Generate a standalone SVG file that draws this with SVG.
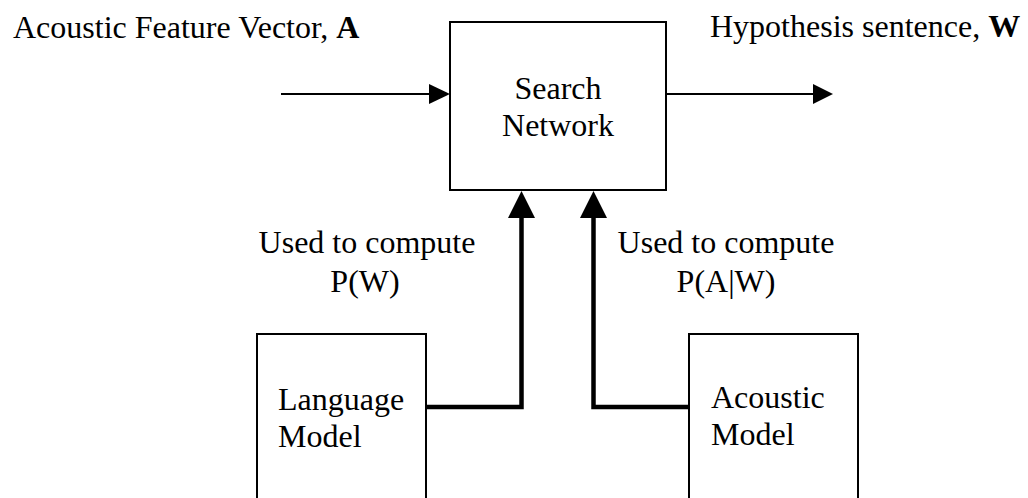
<svg xmlns="http://www.w3.org/2000/svg" width="1028" height="498" viewBox="0 0 1028 498">
<style>
.box{fill:#fff;stroke:#000;stroke-width:2}
.t{font-family:"Liberation Serif","Times New Roman",serif;font-size:32px;fill:#000}
.thin{stroke:#000;stroke-width:2;fill:none}
.thick{stroke:#000;stroke-width:4.5;fill:none;stroke-linejoin:miter}
.head{fill:#000}
</style>
<rect width="1028" height="498" fill="#fff"/>
<g id="connectors">
<line class="thin" x1="281" y1="94" x2="431" y2="94"/>
<polygon class="head" points="429,84 450,94 429,104"/>
<line class="thin" x1="666" y1="94" x2="815" y2="94"/>
<polygon class="head" points="813,84 833,94 813,104"/>
<polyline class="thick" points="426,407 521.5,407 521.5,215"/>
<polygon class="head" points="521.5,191 508,218 535,218"/>
<polyline class="thick" points="689,407 593.5,407 593.5,215"/>
<polygon class="head" points="593.5,191 580,218 607,218"/>
</g>
<g id="input-label">
<text class="t" x="13" y="38">Acoustic Feature Vector, <tspan font-weight="bold">A</tspan></text>
</g>
<g id="output-label">
<text class="t" x="710" y="37">Hypothesis sentence, <tspan font-weight="bold">W</tspan></text>
</g>
<g id="search-network">
<rect class="box" x="450" y="22" width="216" height="168"/>
<text class="t" x="558" y="99" text-anchor="middle">Search</text>
<text class="t" x="558" y="135.5" text-anchor="middle">Network</text>
</g>
<g id="lm-label">
<text class="t" x="367" y="253" text-anchor="middle">Used to compute</text>
<text class="t" x="365" y="292" text-anchor="middle">P(W)</text>
</g>
<g id="am-label">
<text class="t" x="726" y="253" text-anchor="middle">Used to compute</text>
<text class="t" x="726" y="292" text-anchor="middle">P(A|W)</text>
</g>
<g id="language-model">
<rect class="box" x="257" y="334" width="169" height="200"/>
<text class="t" x="278" y="410">Language</text>
<text class="t" x="278" y="447">Model</text>
</g>
<g id="acoustic-model">
<rect class="box" x="689" y="334" width="169" height="200"/>
<text class="t" x="711" y="408">Acoustic</text>
<text class="t" x="711" y="445">Model</text>
</g>
</svg>
